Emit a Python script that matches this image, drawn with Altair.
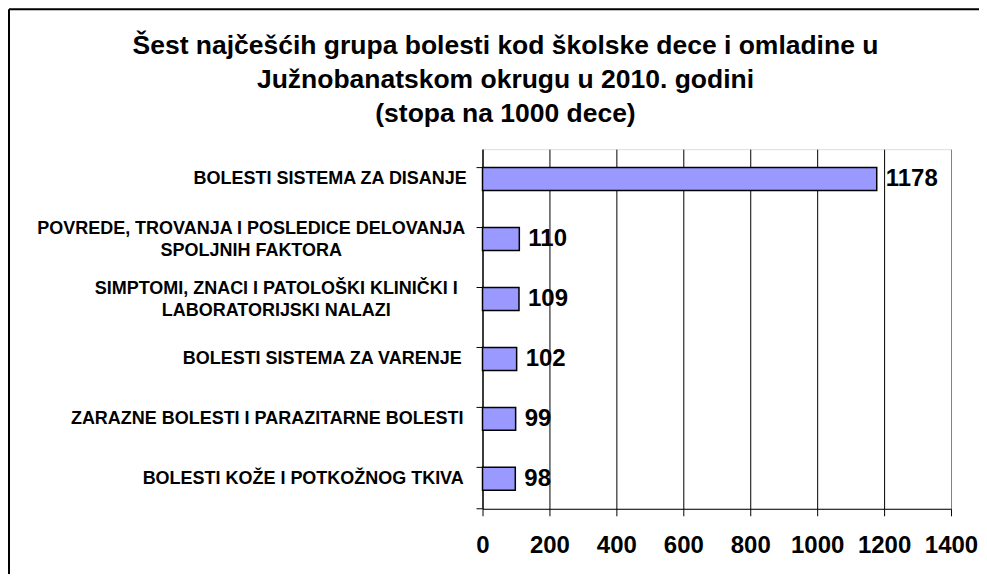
import altair as alt
import pandas as pd

# ---- data ----
categories = [
    "BOLESTI SISTEMA ZA DISANJE",
    "POVREDE, TROVANJA I POSLEDICE DELOVANJA\nSPOLJNIH FAKTORA",
    "SIMPTOMI, ZNACI I PATOLOŠKI KLINIČKI I\nLABORATORIJSKI NALAZI",
    "BOLESTI SISTEMA ZA VARENJE",
    "ZARAZNE BOLESTI I PARAZITARNE BOLESTI",
    "BOLESTI KOŽE I POTKOŽNOG TKIVA",
]
values = [1178, 110, 109, 102, 99, 98]
x_ticks = [0, 200, 400, 600, 800, 1000, 1200, 1400]
title_lines = [
    "Šest najčešćih grupa bolesti kod školske dece i omladine u",
    "Južnobanatskom okrugu u 2010. godini",
    "(stopa na 1000 dece)",
]

# ---- layout (label centring per category, px from axis) ----
label_prefixes = ["BOLESTI SISTEMA ZA D", "POVREDE", "SIMPTOMI", "BOLESTI SISTEMA ZA V", "ZARAZNE", "BOLESTI KOŽE"]
label_pads = [153, 232, 207, 161, 216, 180]
two_line_prefixes = ["POVREDE", "SIMPTOMI"]

FONT = "Liberation Sans"
df = pd.DataFrame({"cat": categories, "value": values})

pad_cond = {
    "condition": [
        {"test": f"indexof(datum.value, '{p}') == 0", "value": v}
        for p, v in zip(label_prefixes, label_pads)
    ],
    "value": 180,
}
offset_cond = {
    "condition": [
        {"test": f"indexof(datum.value, '{p}') == 0", "value": -10}
        for p in two_line_prefixes
    ],
    "value": 0,
}

y_scale = alt.Scale(paddingInner=0.617, paddingOuter=0.308)

y_axis = alt.Axis(
    title=None,
    ticks=False,
    domainColor="black",
    domainWidth=1,
    labelAlign="center",
    labelBaseline="middle",
    labelPadding=pad_cond,
    labelOffset=offset_cond,
    labelExpr="split(datum.label, '\\n')",
    labelFont=FONT,
    labelFontSize=18,
    labelFontWeight="bold",
    labelColor="black",
    labelLineHeight=22,
    labelLimit=0,
)

x_axis = alt.Axis(
    title=None,
    values=x_ticks,
    format="d",
    grid=True,
    gridColor={"condition": {"test": "datum.value == 1400", "value": "#808080"}, "value": "#000000"},
    gridWidth=1,
    tickSize=7,
    tickColor="black",
    domainColor="black",
    domainWidth=1,
    labelFont=FONT,
    labelFontSize=24,
    labelFontWeight="bold",
    labelColor="black",
    labelPadding=18,
    labelFlush=False,
    labelOverlap=False,
)

y_enc = alt.Y("cat:N", sort=categories, scale=y_scale, axis=y_axis)
x_enc = alt.X("value:Q", scale=alt.Scale(domain=[0, 1400]), axis=x_axis)

base = alt.Chart(df)

bars = base.mark_bar(color="#9999FF", stroke="black", strokeWidth=1.5).encode(
    x=x_enc, y=y_enc
)

labels = base.mark_text(
    align="left", baseline="middle", dx=9, font=FONT, fontSize=24,
    fontWeight="bold", color="black"
).encode(x=x_enc, y=y_enc, text="value:Q")

yticks = base.mark_rule(color="black", strokeWidth=1).encode(
    y=alt.Y("cat:N", sort=categories, scale=y_scale, axis=y_axis, bandPosition=0),
    x=alt.value(-6),
    x2=alt.value(0),
)

one = pd.DataFrame({"k": [0]})

ytick_bottom = alt.Chart(one).mark_rule(color="black", strokeWidth=1).encode(
    y=alt.value(360), x=alt.value(-6), x2=alt.value(0)
)

border_left = alt.Chart(one).mark_rule(color="black", strokeWidth=2).encode(
    x=alt.value(-474), y=alt.value(-140), y2=alt.value(440)
)
border_top = alt.Chart(one).mark_rule(color="black", strokeWidth=2).encode(
    x=alt.value(-474), x2=alt.value(520), y=alt.value(-140)
)

title = alt.Chart(one).mark_text(
    align="center", baseline="alphabetic", font=FONT, fontSize=26.5,
    fontWeight="bold", color="black", lineHeight=34
).encode(
    x=alt.value(23), y=alt.value(-95), text=alt.value(title_lines)
)

chart = (
    alt.layer(bars, labels, yticks, ytick_bottom, border_left, border_top, title)
    .properties(
        width=469,
        height=360,
        autosize=alt.AutoSizeParams(type="none"),
        padding={"left": 475, "top": 141, "right": 28, "bottom": 65},
    )
    .configure_view(fill="#C0C0C0", stroke="#808080")
    .configure(background="white")
)

chart.save("out.html", embed_options={"renderer": "svg", "actions": False})
